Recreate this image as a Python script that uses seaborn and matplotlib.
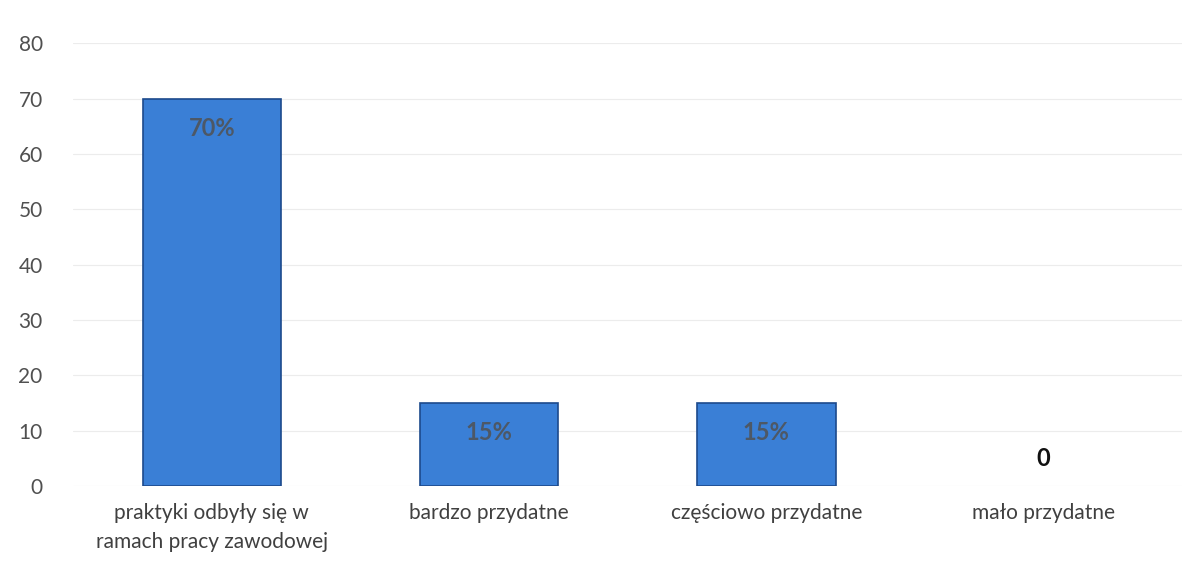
import matplotlib
matplotlib.use("Agg")
import matplotlib.pyplot as plt
import seaborn as sns
import pandas as pd

# values
categories = ["praktyki odbyły się w\nramach pracy zawodowej", "bardzo przydatne",
              "częściowo przydatne", "mało przydatne"]
values = [70, 15, 15, 0]
labels = ["70%", "15%", "15%", "0"]

df = pd.DataFrame({"cat": categories, "val": values})

sns.set_theme(style="white")
plt.rcParams['font.family'] = ['Lato', 'DejaVu Sans']

fig = plt.figure(figsize=(12, 5.68), dpi=100)
ax = fig.add_axes([0.061, 0.144, 0.924, 0.78])

sns.barplot(data=df, x="cat", y="val", color="#3a7fd6", width=0.5,
            edgecolor="#1c4a8c", linewidth=1.2, saturation=1, ax=ax)
# no outline for empty bars
for p in ax.patches:
    if p.get_height() == 0:
        p.set_linewidth(0)

ax.set_ylim(0, 80)
ax.set_yticks(range(0, 81, 10))
ax.yaxis.grid(True, color="#ececec", linewidth=0.8)
ax.set_axisbelow(True)
for s in ax.spines.values():
    s.set_visible(False)
ax.set_xlabel("")
ax.set_ylabel("")
ax.tick_params(axis="y", labelsize=15, colors="#505050", pad=22, length=0)
ax.tick_params(axis="x", labelsize=15, colors="#404040", pad=12, length=0)
for t in ax.get_xticklabels():
    t.set_linespacing(1.55)

for i, (v, lab) in enumerate(zip(values, labels)):
    if v > 0:
        ax.annotate(lab, (i, v), xytext=(0, -13), textcoords="offset points",
                    ha="center", va="top", fontsize=17, fontweight="bold",
                    color="#4d5866")
    else:
        ax.annotate(lab, (i, v), xytext=(0, 20), textcoords="offset points",
                    ha="center", va="center", fontsize=17, fontweight="bold",
                    color="#111111")

fig.savefig("out.png", dpi=100)
